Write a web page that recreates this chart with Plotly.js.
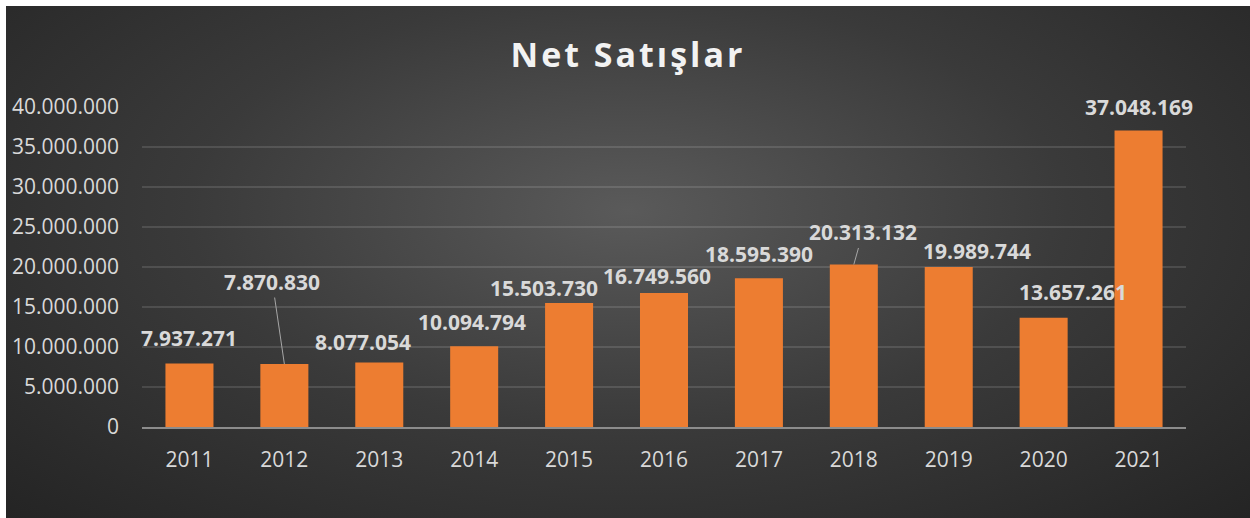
<!DOCTYPE html>
<html>
<head>
<meta charset="utf-8">
<script src="https://cdn.plot.ly/plotly-3.0.1.min.js"></script>
<style>
  html, body { margin: 0; padding: 0; background: #ffffff; }
  #chart {
    position: absolute; left: 6px; top: 6px; width: 1244px; height: 512px;
    background: radial-gradient(ellipse farthest-corner at 50% 40%, #5a5a5a 0%, #3a3a3a 50%, #242424 100%);
  }
  .gtitle { letter-spacing: 3px; }
</style>
</head>
<body>
<div id="chart"></div>
<script>
const years = ['2011','2012','2013','2014','2015','2016','2017','2018','2019','2020','2021'];
const netSales = [7937271, 7870830, 8077054, 10094794, 15503730, 16749560, 18595390, 20313132, 19989744, 13657261, 37048169];
const yTicks = [0, 5000000, 10000000, 15000000, 20000000, 25000000, 30000000, 35000000, 40000000];

// label placement (pixel offsets, styling only)
const labelShiftX = [0, -12, -16, -2, -25, -7, 0, 9, 28, 29, 0];
const labelShiftY = [26, 82, 20, 24, 15, 17, 24, 32, 16, 26, 24];
const leader = [false, true, false, false, false, false, false, true, false, false, false];

function fmt(v) { return String(v).replace(/\B(?=(\d{3})+(?!\d))/g, '.'); }

const labelFont = { family: 'Open Sans, sans-serif', size: 21, color: '#d9d9d9', weight: 'bold' };

const annotations = years.map((y, i) => {
  const base = {
    x: i, y: netSales[i], xref: 'x', yref: 'y',
    text: '<b>' + fmt(netSales[i]) + '</b>',
    font: labelFont
  };
  if (leader[i]) {
    return Object.assign(base, {
      showarrow: true, arrowhead: 0, arrowwidth: 1, arrowcolor: '#a6a6a6',
      ax: labelShiftX[i], ay: -labelShiftY[i], standoff: 0
    });
  }
  return Object.assign(base, { showarrow: false, xshift: labelShiftX[i], yshift: labelShiftY[i] });
});

const trace = {
  type: 'bar', x: years, y: netSales,
  marker: { color: '#ED7D31', line: { width: 0 } },
  hoverinfo: 'skip'
};

const layout = {
  width: 1244, height: 512,
  paper_bgcolor: 'rgba(0,0,0,0)', plot_bgcolor: 'rgba(0,0,0,0)',
  margin: { l: 136, r: 64, t: 101, b: 91 },
  separators: ',.',
  bargap: 0.494,
  showlegend: false,
  title: {
    text: '<b>Net Satışlar</b>',
    font: { family: 'Open Sans, sans-serif', size: 34, color: '#f2f2f2' },
    x: 0.5, xanchor: 'center', xref: 'container',
    y: 0.905, yanchor: 'middle', yref: 'container'
  },
  xaxis: {
    type: 'category', categoryorder: 'array', categoryarray: years,
    range: [-0.5, years.length - 0.5], autorange: false,
    tickfont: { family: 'Open Sans, sans-serif', size: 21, color: '#d9d9d9' },
    showgrid: false, zeroline: false,
    showline: true, linecolor: '#8c8c8c', linewidth: 2,
    ticks: '', ticklabelstandoff: 13
  },
  yaxis: {
    range: [0, 40000000], autorange: false,
    tickvals: yTicks, tickformat: ',d',
    tickfont: { family: 'Open Sans, sans-serif', size: 21, color: '#d9d9d9' },
    showgrid: true, gridcolor: 'rgba(255,255,255,0.12)', gridwidth: 1.5,
    zeroline: false, showline: false, ticks: '', ticklabelstandoff: 22
  },
  annotations: annotations
};

Plotly.newPlot('chart', [trace], layout, { displayModeBar: false, staticPlot: true });
</script>
</body>
</html>
